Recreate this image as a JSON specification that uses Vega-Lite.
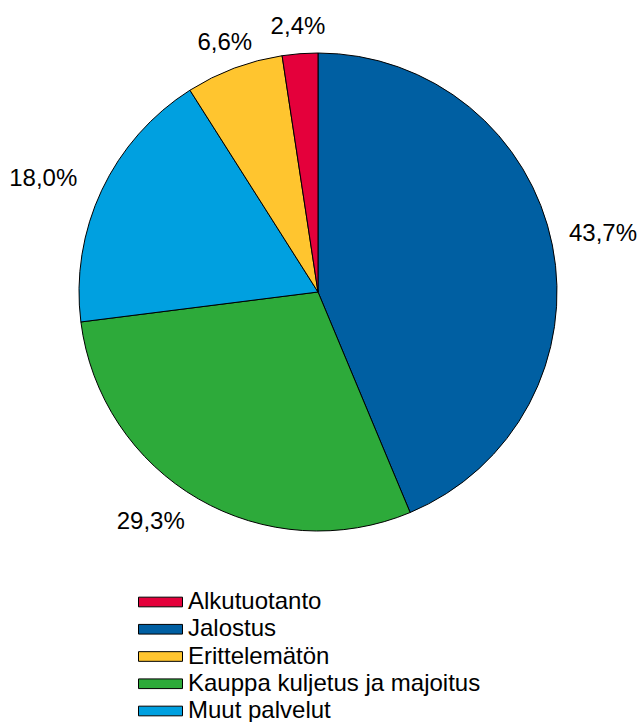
{
  "$schema": "https://vega.github.io/schema/vega-lite/v6.json",
  "width": 636,
  "height": 584,
  "padding": 0,
  "autosize": {"type": "pad"},
  "background": "white",
  "config": {"view": {"stroke": null}, "font": "Liberation Sans"},
  "data": {
    "values": [
      {"category": "Jalostus", "value": 43.7, "ord": 1, "label": "43,7%"},
      {"category": "Kauppa kuljetus ja majoitus", "value": 29.3, "ord": 2, "label": "29,3%"},
      {"category": "Muut palvelut", "value": 18.0, "ord": 3, "label": "18,0%"},
      {"category": "Erittelemätön", "value": 6.6, "ord": 4, "label": "6,6%"},
      {"category": "Alkutuotanto", "value": 2.4, "ord": 5, "label": "2,4%"}
    ]
  },
  "encoding": {
    "theta": {"field": "value", "type": "quantitative", "stack": true},
    "order": {"field": "ord", "type": "quantitative"}
  },
  "layer": [
    {
      "mark": {"type": "arc", "outerRadius": 239, "stroke": "#000000", "strokeWidth": 1},
      "encoding": {
        "color": {
          "field": "category",
          "type": "nominal",
          "scale": {
            "domain": ["Alkutuotanto", "Jalostus", "Erittelemätön", "Kauppa kuljetus ja majoitus", "Muut palvelut"],
            "range": ["#E4003B", "#005FA2", "#FFC52F", "#2DAA3A", "#00A0E0"]
          },
          "legend": {
            "orient": "none",
            "legendX": 138,
            "legendY": 590,
            "title": null,
            "padding": 0,
            "symbolType": "M-1,-0.22H1V0.22H-1Z",
            "symbolSize": 1936,
            "symbolStrokeColor": "#000000",
            "symbolStrokeWidth": 1,
            "symbolOpacity": 1,
            "clipHeight": 24,
            "rowPadding": 3.25,
            "labelOffset": 5,
            "labelFontSize": 24,
            "labelFont": "Liberation Sans",
            "labelColor": "#000000",
            "labelLimit": 500
          }
        }
      }
    },
    {
      "mark": {
        "type": "text",
        "radius": {"expr": "(datum.value_start + datum.value_end) / 200 < 0.45 ? 256 : 266"},
        "dy": {"expr": "(datum.value_start + datum.value_end) / 200 < 0.45 ? -8 : 0"},
        "fontSize": 24,
        "font": "Liberation Sans",
        "color": "#000000",
        "baseline": "middle",
        "align": {"expr": "(datum.value_start + datum.value_end) / 200 < 0.45 ? 'left' : ((datum.value_start + datum.value_end) / 200 > 0.9 ? 'center' : 'right')"}
      },
      "encoding": {"text": {"field": "label", "type": "nominal"}}
    }
  ]
}
